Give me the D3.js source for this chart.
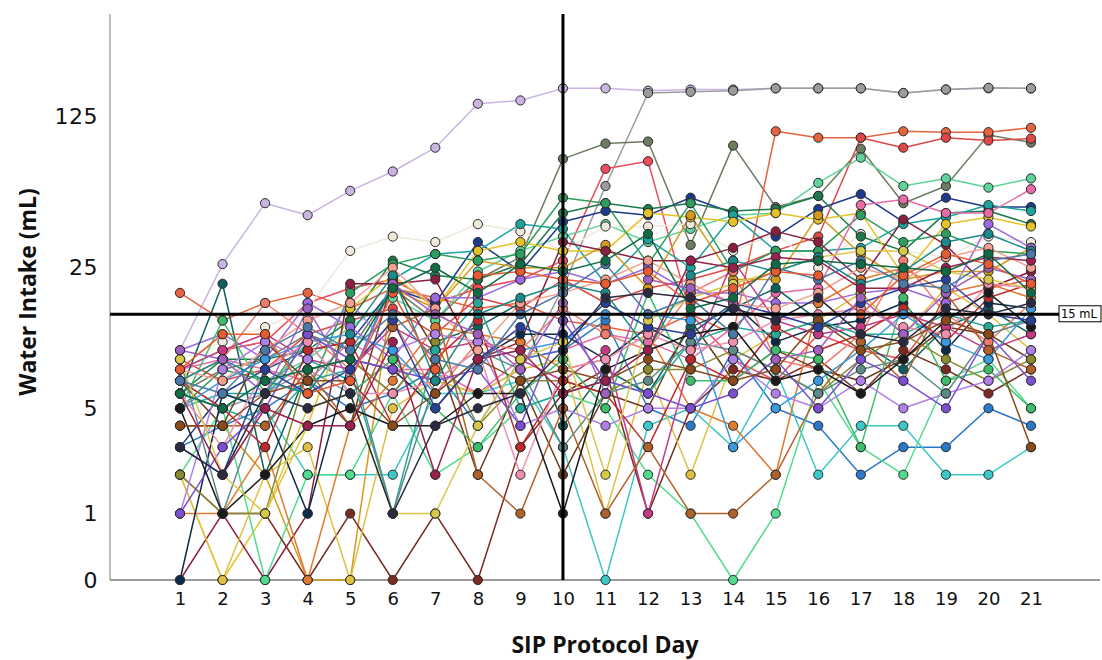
<!DOCTYPE html>
<html>
<head>
<meta charset="utf-8">
<script src="https://cdn.jsdelivr.net/npm/d3@7"></script>
<style>
  html, body { margin: 0; padding: 0; background: #fff; }
  svg { display: block; }
</style>
</head>
<body>
<svg id="chart" width="1102" height="660"></svg>
<script>
// ---------- DATA ----------
const days = [1,2,3,4,5,6,7,8,9,10,11,12,13,14,15,16,17,18,19,20,21];
const yTickValues = [0, 1, 5, 25, 125];
const referenceIntake = 15;
const referenceDay = 10;
const referenceLabel = "15 mL";
const xTitle = "SIP Protocol Day";
const yTitle = "Water Intake (mL)";

const s01 = [10,26,50,44,57,70,90,143,148,168,168,164,166,166,168,168,168,160,166,168,168];
const s02 = [7,5,6,8,6,9,7,6,8,20,60,160,162,164,168,168,168,160,166,169,168];
const s03 = [6,8,9,12,10,20,14,22,28,80,94,96,32,92,48,54,89,50,60,103,95];
const s04 = [19,14,17,19,16,20,18,16,17,14,13,12,15,12,107,100,100,107,106,106,111];
const s05 = [8,10,11,17,20,22,17,20,22,27,72,78,15,9,7,12,10,9,17,20,22];
const s06 = [9,7,8,12,14,16,12,18,16,22,17,20,22,25,30,35,100,90,100,97,99];
const s07 = [6,5,7,9,13,18,14,24,30,35,40,33,38,44,45,62,81,60,65,59,65];
const s08 = [9,11,13,16,30,35,33,40,37,30,39,39,40,30,36,25,36,30,28,35,33];
const s09 = [3,6,8,10,11,20,17,33,24,41,46,44,53,45,35,47,55,41,53,48,48];
const s10 = [6,9,9,10,14,27,23,22,26,45,50,47,50,46,47,54,35,30,45,46,40];
const s11 = [5,6,6,9,7,22,29,30,40,38,21,34,25,44,30,30,31,40,43,49,46];
const s12 = [2,0,1,4,16,23,16,30,33,30,30,45,43,41,45,42,45,23,40,43,39];
const s13 = [4,4,2,0,0,20,16,27,25,25,32,20,44,22,22,44,29,22,24,24,31];
const s14 = [5,8,7,6,19,26,29,27,29,53,50,26,50,24,30,30,44,33,36,30,29];
const s15 = [0,1,0,1,21,21,22,9,11,33,30,27,27,31,37,33,22,42,32,20,24];
const s16 = [10,12,9,17,13,9,18,18,22,24,21,25,19,19,17,17,19,20,17,40,31];
const s17 = [8,9,8,7,11,8,8,6,9,10,12,11,9,13,19,20,49,52,45,45,58];
const s18 = [3,4,5,7,5,6,8,4,9,10,14,5,4,10,5,4,2,3,3,5,4];
const s19 = [5,6,5,2,2,2,6,6,7,3,0,4,5,3,8,2,4,4,2,2,3];
const s20 = [2,5,0,2,2,6,2,3,5,6,5,2,1,0,1,7,3,2,7,9,5];
const s21 = [2,1,1,0,1,0,1,0,3,6,8,1,5,8,7,9,6,10,8,6,8];
const s22 = [2,0,2,3,0,5,7,6,8,9,1,8,2,9,12,14,19,12,20,15,10];
const s23 = [1,1,3,0,4,7,13,12,11,8,9,12,5,4,2,17,22,25,19,21,18];
const s24 = [6,21,2,8,9,6,11,13,17,4,8,6,13,16,20,14,11,8,13,16,12];
const s25 = [0,6,5,1,9,8,5,9,12,12,9,13,10,17,11,13,14,17,10,17,16];
const s26 = [7,9,17,12,8,14,6,11,10,16,12,10,19,24,9,8,12,27,15,11,17];
const s27 = [7,4,11,7,4,22,10,2,7,2,6,5,14,7,10,8,7,9,13,12,9];
const s28 = [8,10,12,9,8,13,10,11,9,7,10,1,9,27,14,12,13,15,13,10,12];
const s29 = [5,14,6,11,6,9,5,3,6,9,5,19,7,7,10,9,3,18,7,8,5];
const s30 = [2,1,1,8,9,6,11,4,7,7,6,8,8,10,8,6,9,12,9,7,9];
const s31 = [6,5,4,7,8,1,10,17,5,6,7,6,11,13,12,14,12,12,15,13,14];
const s32 = [1,8,11,9,17,10,12,11,4,5,4,5,5,9,6,5,7,5,6,7,10];
const s33 = [7,5,3,10,11,4,9,14,3,7,6,3,9,7,13,10,12,16,11,18,21];
const s34 = [4,4,4,8,4,13,16,2,1,5,1,3,1,1,2,6,11,7,19,10,8];
const s35 = [5,7,9,11,12,10,6,9,10,11,15,15,14,3,5,7,10,15,11,9,16];
const s36 = [9,1,6,12,9,1,7,10,8,3,6,7,11,10,8,6,8,9,6,12,14];
const s37 = [6,3,8,11,6,6,7,10,2,8,9,12,10,11,14,15,16,13,12,21,20];
const s38 = [1,3,5,12,9,8,7,8,4,14,7,6,5,6,9,5,9,7,5,12,7];
const s39 = [5,1,2,4,5,4,4,6,6,1,8,10,12,13,7,8,6,9,14,19,13];
const s40 = [4,4,6,7,7,4,6,9,7,8,7,9,8,7,8,14,10,11,14,12,3];
const s41 = [3,2,8,6,8,14,5,9,13,11,17,13,12,17,15,13,17,20,22,15,14];
const s42 = [9,2,1,5,6,1,1,4,9,11,2,14,18,21,24,28,30,30,24,22,20];
const s43 = [8,7,10,14,17,25,16,10,17,19,22,27,21,17,16,19,25,22,28,31,25];
const s44 = [7,9,7,6,12,23,7,15,18,21,19,10,23,27,24,28,21,24,33,36,30];
const s45 = [6,2,5,4,4,11,2,9,10,6,7,10,27,25,28,27,20,20,25,28,27];
const s46 = [10,9,6,16,7,21,15,12,8,17,6,22,20,17,9,10,18,12,19,25,22];
const s47 = [7,6,10,13,10,15,9,8,15,19,26,15,18,12,25,22,27,21,20,27,29];
const s48 = [8,12,12,6,7,19,8,23,24,22,21,24,17,20,24,23,15,23,29,26,21];
const s49 = [6,5,7,8,9,20,25,19,26,24,27,36,16,18,26,27,26,25,24,29,19];
const s50 = [3,2,6,5,6,1,4,5,6,10,18,19,18,16,14,18,12,11,16,15,17];

const subjects = [s01,s02,s03,s04,s05,s06,s07,s08,s09,s10,s11,s12,s13,s14,s15,s16,s17,s18,s19,s20,
                  s21,s22,s23,s24,s25,s26,s27,s28,s29,s30,s31,s32,s33,s34,s35,s36,s37,s38,s39,s40,
                  s41,s42,s43,s44,s45,s46,s47,s48,s49,s50];
const subjectColors = [
  "#c9b4e3","#9c9c9c","#6e7d62","#e5643f","#ec4d5c","#e04848","#5fd39a","#efe9da","#1b3a8a","#1e7a4c",
  "#1aa3a0","#e6c229","#d49a1a","#2e9e5e","#8a1f3f","#9b6ae0","#e86aa6","#2a78c8","#3cc8c8","#4fdc8f",
  "#7a2a20","#e0c040","#e07a30","#0f5e5e","#0c2a4a","#f07c6c","#6a3b1a","#c43a84","#3dbd6a","#8b8b2e",
  "#28a898","#b080e8","#c0282c","#b0602a","#3a9ae0","#5e8a8a","#ef8fb0","#7b4fd0","#1a1a1a","#8b4a1c",
  "#2a3f9a","#d8c84a","#f4a090","#1c8a8a","#9a2050","#a060c0","#4a78a8","#e85a30","#0e6b45","#2a2a40"
];

// ---------- SCALES ----------
const svg = d3.select("#chart");
const plot = { left: 110, right: 1100, top: 14, bottom: 580 };

const x = d3.scaleLinear().domain([1, 21]).range([180, 1031]);
const y = d3.scaleSymlog().constant(1).domain([0, 125]).range([plot.bottom, 116.5]);

// ---------- AXES ----------
svg.append("line")
  .attr("x1", plot.left).attr("x2", plot.left)
  .attr("y1", plot.top).attr("y2", plot.bottom)
  .attr("stroke", "#a8a8a8").attr("stroke-width", 1.5);
svg.append("line")
  .attr("x1", plot.left).attr("x2", plot.right)
  .attr("y1", plot.bottom).attr("y2", plot.bottom)
  .attr("stroke", "#7a7a7a").attr("stroke-width", 1.5);

const yAxis = d3.axisLeft(y).tickValues(yTickValues).tickSize(0).tickPadding(12).tickFormat(d3.format("d"));
const gy = svg.append("g").attr("transform", `translate(${plot.left},0)`).call(yAxis);
gy.select(".domain").remove();
gy.selectAll("text")
  .attr("font-family", "DejaVu Sans, sans-serif")
  .attr("font-size", 22).attr("fill", "#111")
  .attr("letter-spacing", 0.5);

const xAxis = d3.axisBottom(x).tickValues(days).tickSize(0).tickPadding(12).tickFormat(d3.format("d"));
const gx = svg.append("g").attr("transform", `translate(0,${plot.bottom})`).call(xAxis);
gx.select(".domain").remove();
gx.selectAll("text")
  .attr("font-family", "DejaVu Sans, sans-serif")
  .attr("font-size", 18).attr("fill", "#111");

svg.append("text")
  .attr("x", (plot.left + plot.right) / 2).attr("y", 653)
  .attr("text-anchor", "middle")
  .attr("font-family", "Open Sans, Liberation Sans, sans-serif")
  .attr("font-weight", 700).attr("font-size", 23).attr("fill", "#111")
  .text(xTitle);
svg.append("text")
  .attr("transform", "translate(36,292) rotate(-90)")
  .attr("text-anchor", "middle")
  .attr("font-family", "Open Sans, Liberation Sans, sans-serif")
  .attr("font-weight", 700).attr("font-size", 23).attr("fill", "#111")
  .text(yTitle);

// ---------- SERIES ----------
const line = d3.line().x((d, i) => x(days[i])).y(d => y(d));
const gLines = svg.append("g");
subjects.forEach((vals, si) => {
  gLines.append("path")
    .attr("d", line(vals))
    .attr("fill", "none")
    .attr("stroke", subjectColors[si])
    .attr("stroke-width", 1.5)
    .attr("stroke-linejoin", "round");
});
const gPts = svg.append("g");
subjects.forEach((vals, si) => {
  gPts.selectAll(null).data(vals).enter().append("circle")
    .attr("cx", (d, i) => x(days[i]))
    .attr("cy", d => y(d))
    .attr("r", 4.6)
    .attr("fill", subjectColors[si])
    .attr("stroke", "#2a2a2a")
    .attr("stroke-width", 1);
});

// ---------- REFERENCE LINES ----------
svg.append("line")
  .attr("x1", x(referenceDay)).attr("x2", x(referenceDay))
  .attr("y1", plot.top).attr("y2", plot.bottom)
  .attr("stroke", "#000").attr("stroke-width", 3);
const yRef = y(referenceIntake);
svg.append("line")
  .attr("x1", plot.left).attr("x2", 1059)
  .attr("y1", yRef).attr("y2", yRef)
  .attr("stroke", "#000").attr("stroke-width", 3);
svg.append("rect")
  .attr("x", 1059).attr("y", yRef - 8.5).attr("width", 42).attr("height", 16)
  .attr("fill", "#fff").attr("stroke", "#000").attr("stroke-width", 1);
svg.append("text")
  .attr("x", 1061).attr("y", yRef + 4)
  .attr("font-family", "DejaVu Sans, sans-serif")
  .attr("font-size", 11.5).attr("fill", "#000")
  .text(referenceLabel);
</script>
</body>
</html>
